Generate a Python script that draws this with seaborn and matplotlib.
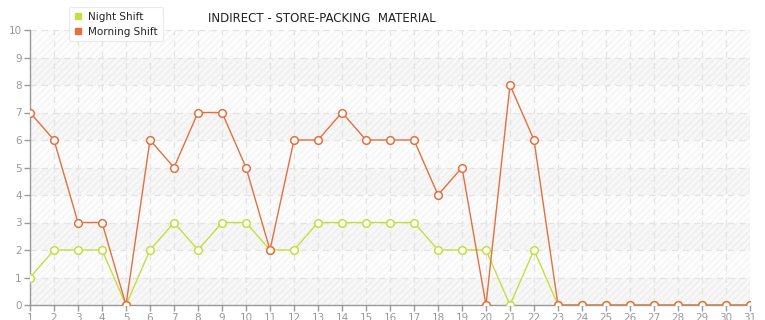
import matplotlib
matplotlib.use("Agg")
import matplotlib.pyplot as plt
import seaborn as sns
import pandas as pd
from matplotlib.lines import Line2D

days = list(range(1, 32))
night_shift = [1, 2, 2, 2, 0, 2, 3, 2, 3, 3, 2, 2, 3, 3, 3, 3, 3, 2, 2, 2, 0, 2, 0,
               0, 0, 0, 0, 0, 0, 0, 0]
morning_shift = [7, 6, 3, 3, 0, 6, 5, 7, 7, 5, 2, 6, 6, 7, 6, 6, 6, 4, 5, 0, 8, 6, 0,
                 0, 0, 0, 0, 0, 0, 0, 0]
series_names = ["Night Shift", "Morning Shift"]
title = "INDIRECT - STORE-PACKING  MATERIAL"

night_color = "#c5df3e"
morning_color = "#e4703e"

sns.set_theme(style="white")
plt.rcParams['font.family'] = ['DejaVu Sans']
plt.rcParams['hatch.color'] = '#f0f0f0'
plt.rcParams['hatch.linewidth'] = 0.6

df = pd.DataFrame({"day": days * 2,
                   "value": night_shift + morning_shift,
                   "series": [series_names[0]] * 31 + [series_names[1]] * 31})

fig = plt.figure(figsize=(7.65, 3.2), dpi=100)
ax = fig.add_axes([30 / 765, 15 / 320, 720 / 765, 275 / 320])
ax.set_facecolor("#fdfdfd")
ax.patch.set_hatch("/////")
ax.patch.set_edgecolor("#f0f0f0")

for lo in range(0, 10, 2):
    ax.axhspan(lo, lo + 1, color="#000000", alpha=0.022, zorder=0, lw=0)

sns.lineplot(data=df, x="day", y="value", hue="series",
             palette={series_names[0]: night_color, series_names[1]: morning_color},
             marker="o", markersize=5.5, markerfacecolor="white", markeredgewidth=1.1,
             linewidth=1.0, ax=ax, legend=False, zorder=3)
for line, c in zip(ax.get_lines(), [night_color, morning_color]):
    line.set_markeredgecolor(c)

ax.set_xlim(1, 31)
ax.set_ylim(0, 10)
ax.set_xticks(days)
ax.set_yticks(range(0, 11))
ax.set_xlabel("")
ax.set_ylabel("")
ax.grid(True, color="#e4e4e4", linestyle=(0, (5, 4)), linewidth=0.9)
ax.set_axisbelow(True)
for s in ["top", "right"]:
    ax.spines[s].set_visible(False)
ax.spines["left"].set_color("#999999")
ax.spines["bottom"].set_color("#999999")
ax.spines["left"].set_linewidth(1.0)
ax.spines["bottom"].set_linewidth(1.0)
ax.tick_params(axis="both", colors="#999999", labelcolor="#999999", labelsize=7.5,
               length=4, width=1, direction="out", left=True, bottom=True, pad=2)

fig.text(322 / 765, 1 - 18 / 320, title, ha="center", va="center", fontsize=8.5,
         color="#222222")

handles = [Line2D([0], [0], marker="s", color="none", markerfacecolor=night_color,
                  markeredgecolor=night_color, markersize=4),
           Line2D([0], [0], marker="s", color="none", markerfacecolor=morning_color,
                  markeredgecolor=morning_color, markersize=4)]
leg = fig.legend(handles, series_names, loc="upper left",
                 bbox_to_anchor=(64 / 765, 1 - 2 / 320), frameon=True, fontsize=7.5,
                 handlelength=0.8, handletextpad=0.6, borderpad=0.45, labelspacing=0.45,
                 fancybox=True, shadow=False)
leg.get_frame().set_edgecolor("#e6e6e6")
leg.get_frame().set_facecolor("white")
leg.get_frame().set_linewidth(0.8)

fig.savefig("out.png", dpi=100)
